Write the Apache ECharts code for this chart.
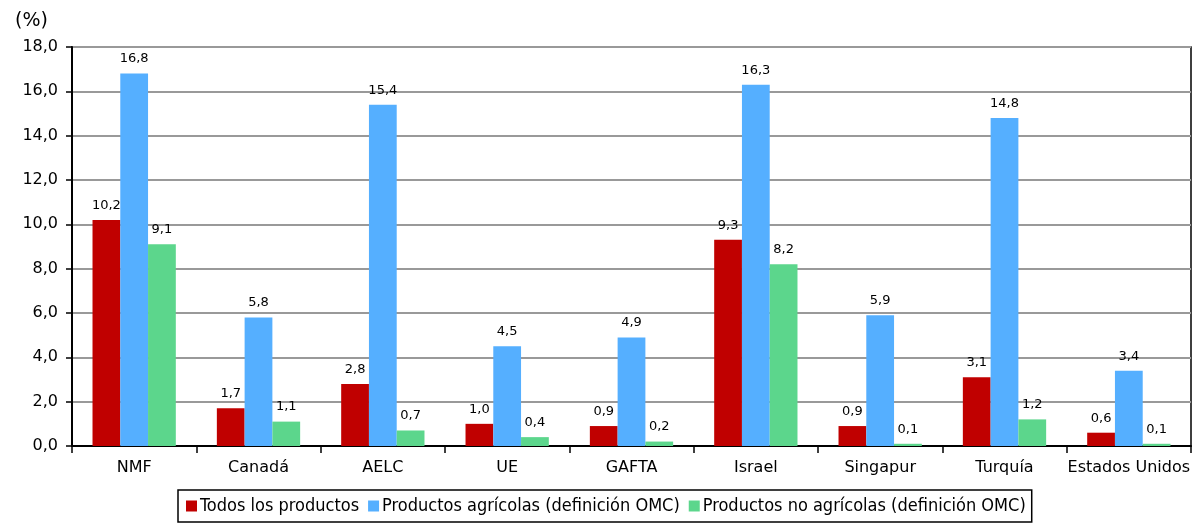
<!DOCTYPE html>
<html>
<head>
<meta charset="utf-8">
<script src="https://cdn.jsdelivr.net/npm/echarts@6/dist/echarts.min.js"></script>
<style>
  html, body { margin: 0; padding: 0; background: #fff; }
  #chart { width: 1198px; height: 525px; }
</style>
</head>
<body>
<div id="chart"></div>
<script>
// Economies compared
const categories = ['NMF', 'Canadá', 'AELC', 'UE', 'GAFTA', 'Israel', 'Singapur', 'Turquía', 'Estados Unidos'];

// Average tariff (%) by product group
const todosLosProductos = [10.2, 1.7, 2.8, 1.0, 0.9, 9.3, 0.9, 3.1, 0.6];
const productosAgricolas = [16.8, 5.8, 15.4, 4.5, 4.9, 16.3, 5.9, 14.8, 3.4];
const productosNoAgricolas = [9.1, 1.1, 0.7, 0.4, 0.2, 8.2, 0.1, 1.2, 0.1];

const seriesNames = [
  'Todos los productos',
  'Productos agrícolas (definición OMC)',
  'Productos no agrícolas (definición OMC)'
];

const FONT = '"DejaVu Sans", Verdana, sans-serif';
const fmt = v => Number(v).toFixed(1).replace('.', ',');

const chart = echarts.init(document.getElementById('chart'), null, { renderer: 'canvas' });

function barSeries(name, data, color) {
  return {
    name: name,
    type: 'bar',
    data: data,
    barGap: '0%',
    barCategoryGap: '33%',
    itemStyle: { color: color },
    label: {
      show: true,
      position: 'top',
      distance: 8,
      color: '#000',
      fontFamily: FONT,
      fontSize: 13,
      formatter: p => fmt(p.value)
    }
  };
}

chart.setOption({
  animation: false,
  textStyle: { fontFamily: FONT },
  title: {
    text: '(%)',
    left: 10,
    top: 7,
    textStyle: { fontFamily: FONT, fontSize: 19, fontWeight: 'normal', color: '#000' }
  },
  grid: {
    left: 72, right: 7, top: 47, bottom: 79,
    show: true, borderColor: '#000', borderWidth: 1.5, backgroundColor: 'transparent'
  },
  legend: {
    bottom: 3,
    left: 178,
    itemWidth: 11,
    itemHeight: 11,
    itemGap: 9,
    borderColor: '#000',
    borderWidth: 1.5,
    padding: [7, 6, 7, 8],
    icon: 'rect',
    textStyle: { fontFamily: '"DejaVu Sans Condensed", "DejaVu Sans", sans-serif', fontSize: 18, color: '#000', padding: [0, 0, 0, -2] },
    data: seriesNames
  },
  xAxis: {
    type: 'category',
    data: categories,
    axisLine: { lineStyle: { color: '#000', width: 2 } },
    axisTick: { show: true, interval: 0, length: 7, lineStyle: { color: '#000', width: 1.5 } },
    axisLabel: { color: '#000', fontFamily: FONT, fontSize: 16, margin: 14, interval: 0 }
  },
  yAxis: {
    type: 'value',
    min: 0,
    max: 18,
    interval: 2,
    axisLine: { show: true, lineStyle: { color: '#000', width: 2 } },
    axisTick: { show: true, length: 6, lineStyle: { color: '#000', width: 1.5 } },
    axisLabel: { color: '#000', fontFamily: FONT, fontSize: 16, margin: 14, formatter: v => fmt(v) },
    splitLine: { lineStyle: { color: '#999', width: 2 } }
  },
  series: [
    barSeries(seriesNames[0], todosLosProductos, '#C00000'),
    barSeries(seriesNames[1], productosAgricolas, '#55AFFF'),
    barSeries(seriesNames[2], productosNoAgricolas, '#5CD68C')
  ]
});
</script>
</body>
</html>
